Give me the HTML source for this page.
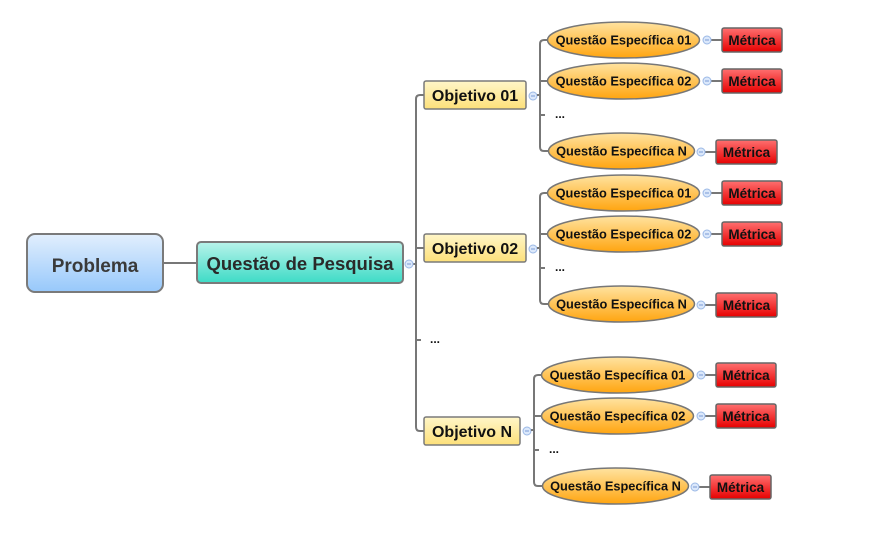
<!DOCTYPE html>
<html><head><meta charset="utf-8"><style>
html,body{margin:0;padding:0;background:#fff;}
svg{display:block;}
text{font-family:"Liberation Sans",sans-serif;font-weight:bold;}
</style></head><body>
<svg width="873" height="543" viewBox="0 0 873 543" xmlns="http://www.w3.org/2000/svg">
<defs>
<linearGradient id="gP" x1="0" y1="0" x2="0" y2="1"><stop offset="0" stop-color="#e2effd"/><stop offset="1" stop-color="#97c8fb"/></linearGradient>
<linearGradient id="gQ" x1="0" y1="0" x2="0" y2="1"><stop offset="0" stop-color="#b8f3ea"/><stop offset="1" stop-color="#3ddbc6"/></linearGradient>
<linearGradient id="gO" x1="0" y1="0" x2="0" y2="1"><stop offset="0" stop-color="#fff6c8"/><stop offset="1" stop-color="#fde07a"/></linearGradient>
<linearGradient id="gE" x1="0" y1="0" x2="0" y2="1"><stop offset="0" stop-color="#ffe3a0"/><stop offset="1" stop-color="#ffa510"/></linearGradient>
<linearGradient id="gM" x1="0" y1="0" x2="0" y2="1"><stop offset="0" stop-color="#ff7070"/><stop offset="1" stop-color="#e60000"/></linearGradient>
<g id="grp">
  <path d="M537 95 H540 M547 40 H544 Q540 40 540 44 V147 Q540 151 544 151 H548 M540 81 H547 M540 115 H545" fill="none" stroke="#777" stroke-width="2"/>
  <ellipse cx="623.5" cy="40" rx="76" ry="18" fill="url(#gE)" stroke="#777" stroke-width="1.5"/>
  <text x="623.5" y="44.5" font-size="12.8" text-anchor="middle" fill="#111">Questão Específica 01</text>
  <ellipse cx="623.5" cy="81" rx="76" ry="18" fill="url(#gE)" stroke="#777" stroke-width="1.5"/>
  <text x="623.5" y="85.5" font-size="12.8" text-anchor="middle" fill="#111">Questão Específica 02</text>
  <text x="555" y="118" font-size="12" fill="#111">...</text>
  <ellipse cx="621.5" cy="151" rx="73" ry="18" fill="url(#gE)" stroke="#777" stroke-width="1.5"/>
  <text x="621.5" y="155.5" font-size="12.8" text-anchor="middle" fill="#111">Questão Específica N</text>
  <path d="M711 40 H722 M711 81 H722 M705 152 H716" stroke="#777" stroke-width="2"/>
  <circle cx="707" cy="40" r="4" fill="#dbe8fb" stroke="#9bb8e6"/>
  <line x1="705" y1="40" x2="709" y2="40" stroke="#7a9ad6"/>
  <circle cx="707" cy="81" r="4" fill="#dbe8fb" stroke="#9bb8e6"/>
  <line x1="705" y1="81" x2="709" y2="81" stroke="#7a9ad6"/>
  <circle cx="701" cy="152" r="4" fill="#dbe8fb" stroke="#9bb8e6"/>
  <line x1="699" y1="152" x2="703" y2="152" stroke="#7a9ad6"/>
  <rect x="722" y="28" width="60" height="24" rx="2" fill="url(#gM)" stroke="#666" stroke-width="1.5"/>
  <text x="752" y="45" font-size="13.5" text-anchor="middle" fill="#111">Métrica</text>
  <rect x="722" y="69" width="60" height="24" rx="2" fill="url(#gM)" stroke="#666" stroke-width="1.5"/>
  <text x="752" y="86" font-size="13.5" text-anchor="middle" fill="#111">Métrica</text>
  <rect x="716" y="140" width="61" height="24" rx="2" fill="url(#gM)" stroke="#666" stroke-width="1.5"/>
  <text x="746.5" y="157" font-size="13.5" text-anchor="middle" fill="#111">Métrica</text>
</g>
</defs>

<line x1="163" y1="263" x2="197" y2="263" stroke="#777" stroke-width="2"/>
<rect x="27" y="234" width="136" height="58" rx="8" fill="url(#gP)" stroke="#7a7a7a" stroke-width="2"/>
<text x="95" y="272" font-size="19" text-anchor="middle" fill="#3a3a3a">Problema</text>
<rect x="197" y="242" width="206" height="41" rx="4" fill="url(#gQ)" stroke="#7a7a7a" stroke-width="2"/>
<text x="300" y="270" font-size="18.5" text-anchor="middle" fill="#2a2a2a">Questão de Pesquisa</text>
<path d="M413 264 H416 M424 95 H420 Q416 95 416 99 V427 Q416 431 420 431 H424 M416 248 H424 M416 340 H421" fill="none" stroke="#777" stroke-width="2"/>
<circle cx="409" cy="264" r="4" fill="#dbe8fb" stroke="#9bb8e6"/>
<line x1="407" y1="264" x2="411" y2="264" stroke="#7a9ad6"/>
<text x="430" y="343" font-size="12" fill="#111">...</text>

<rect x="424" y="81" width="102" height="28" rx="2" fill="url(#gO)" stroke="#7a7a7a" stroke-width="1.5"/>
<text x="475" y="101" font-size="16" text-anchor="middle" fill="#111">Objetivo 01</text>
<circle cx="533" cy="96" r="4" fill="#dbe8fb" stroke="#9bb8e6"/><line x1="531" y1="96" x2="535" y2="96" stroke="#7a9ad6"/>
<rect x="424" y="234" width="102" height="28" rx="2" fill="url(#gO)" stroke="#7a7a7a" stroke-width="1.5"/>
<text x="475" y="254" font-size="16" text-anchor="middle" fill="#111">Objetivo 02</text>
<circle cx="533" cy="249" r="4" fill="#dbe8fb" stroke="#9bb8e6"/><line x1="531" y1="249" x2="535" y2="249" stroke="#7a9ad6"/>
<rect x="424" y="417" width="96" height="28" rx="2" fill="url(#gO)" stroke="#7a7a7a" stroke-width="1.5"/>
<text x="472" y="437" font-size="16" text-anchor="middle" fill="#111">Objetivo N</text>
<circle cx="527" cy="431" r="4" fill="#dbe8fb" stroke="#9bb8e6"/><line x1="525" y1="431" x2="529" y2="431" stroke="#7a9ad6"/>

<use href="#grp"/>
<use href="#grp" transform="translate(0,153)"/>
<use href="#grp" transform="translate(-6,335)"/>
</svg>
</body></html>
